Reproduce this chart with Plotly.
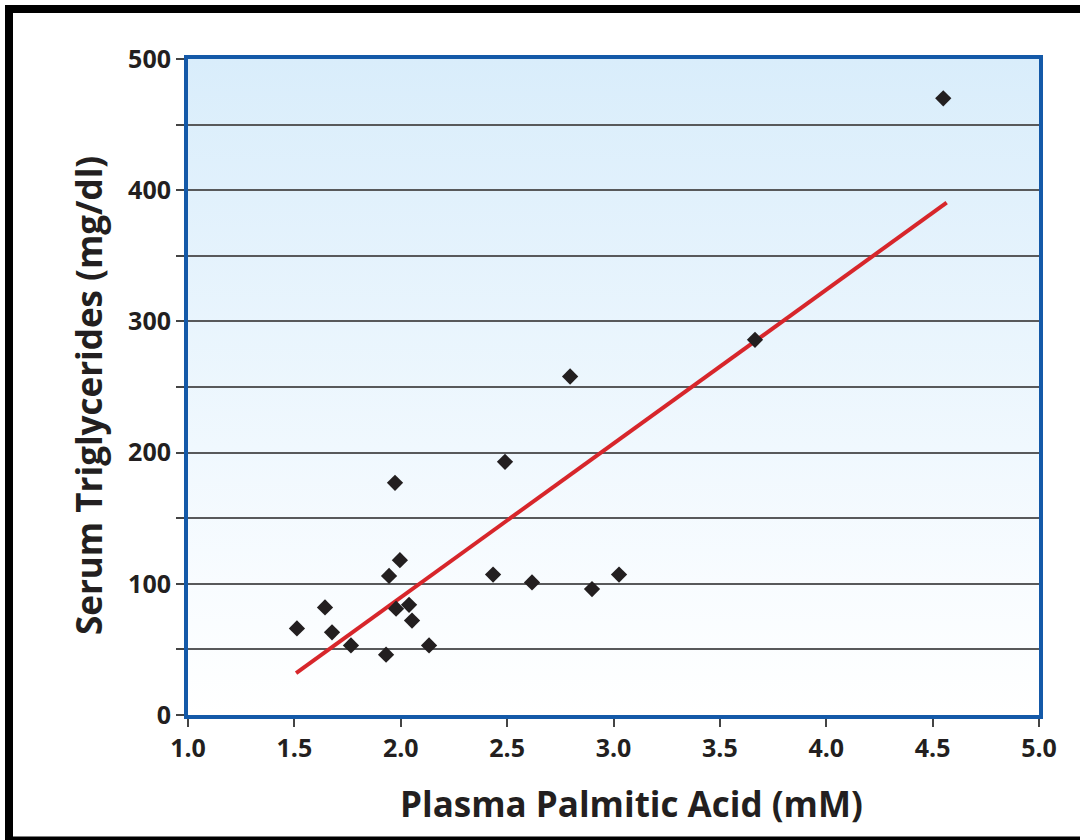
import base64
import plotly.graph_objects as go

# Data
palmitic_mM = [1.512, 1.644, 1.677, 1.766, 1.931, 1.945, 1.973, 1.978, 1.996, 2.039,
               2.053, 2.133, 2.434, 2.490, 2.617, 2.796, 2.899, 3.026, 3.665, 4.550]
triglycerides = [66, 82, 63, 53, 46, 106, 177, 81, 118, 84,
                 72, 53, 107, 193, 101, 258, 96, 107, 286, 470]
fit_x = [1.508, 4.566]
fit_y = [32, 390.5]

x_ticks = [1.0, 1.5, 2.0, 2.5, 3.0, 3.5, 4.0, 4.5, 5.0]
x_tick_text = ["1.0", "1.5", "2.0", "2.5", "3.0", "3.5", "4.0", "4.5", "5.0"]
y_ticks = [0, 50, 100, 150, 200, 250, 300, 350, 400, 450, 500]
y_tick_text = ["0", "", "100", "", "200", "", "300", "", "400", "", "500"]

FONT = "Open Sans"
TXT = "#231f20"
BLUE = "#1459a8"

W, H = 1080, 840
L, R, T, B = 188, 41, 59, 125
pw, ph = W - L - R, H - T - B


def px2paper_x(px):
    return (px - L) / pw


def px2paper_y(py):
    return (H - B - py) / ph


svg = ('<svg xmlns="http://www.w3.org/2000/svg" width="100" height="100" viewBox="0 0 100 100" '
       'preserveAspectRatio="none"><defs><linearGradient id="g" x1="0" y1="0" x2="0" y2="1">'
       '<stop offset="0" stop-color="#d9edfb"/><stop offset="0.8" stop-color="#f8fcff"/>'
       '<stop offset="1" stop-color="#ffffff"/></linearGradient></defs>'
       '<rect width="100" height="100" fill="url(#g)"/></svg>')
svg_uri = "data:image/svg+xml;base64," + base64.b64encode(svg.encode()).decode()

fig = go.Figure()
fig.add_trace(go.Scatter(x=fit_x, y=fit_y, mode="lines",
                         line=dict(color="#d7262b", width=4), hoverinfo="skip"))
fig.add_trace(go.Scatter(x=palmitic_mM, y=triglycerides, mode="markers",
                         marker=dict(symbol="diamond", size=12.5, color=TXT)))

fig.update_layout(
    width=W, height=H,
    margin=dict(l=L, r=R, t=T, b=B),
    paper_bgcolor="white", plot_bgcolor="white",
    showlegend=False,
    font=dict(family=FONT, color=TXT),
    images=[dict(source=svg_uri, xref="paper", yref="paper", x=0, y=1, sizex=1, sizey=1,
                 sizing="stretch", xanchor="left", yanchor="top", layer="below")],
    xaxis=dict(range=[1, 5], tickvals=x_ticks, ticktext=x_tick_text,
               showgrid=False, zeroline=False,
               showline=True, linecolor=BLUE, linewidth=4, mirror=True,
               ticks="outside", ticklen=8, tickwidth=1.5, tickcolor="#444",
               tickfont=dict(family=FONT, size=25, color=TXT, weight="bold")),
    yaxis=dict(range=[0, 500], tickvals=y_ticks, ticktext=y_tick_text,
               showgrid=True, gridcolor="#58595b", gridwidth=1.5, zeroline=False,
               showline=True, linecolor=BLUE, linewidth=4, mirror=True,
               ticks="outside", ticklen=8, tickwidth=1.5, tickcolor="#444",
               tickfont=dict(family=FONT, size=25, color=TXT, weight="bold")),
    annotations=[
        dict(text="Plasma Palmitic Acid (mM)", xref="paper", yref="paper",
             x=px2paper_x(631), y=px2paper_y(803), xanchor="center", yanchor="middle",
             showarrow=False, font=dict(family=FONT, size=35, color=TXT, weight="bold")),
        dict(text="Serum Triglycerides (mg/dl)", xref="paper", yref="paper",
             x=px2paper_x(88), y=px2paper_y(396), xanchor="center", yanchor="middle",
             textangle=-90, showarrow=False,
             font=dict(family=FONT, size=35, color=TXT, weight="bold")),
    ],
    shapes=[
        dict(type="rect", xref="paper", yref="paper", layer="above",
             x0=px2paper_x(9), x1=px2paper_x(1100), y0=px2paper_y(840.5), y1=px2paper_y(9),
             line=dict(color="black", width=8), fillcolor="rgba(0,0,0,0)"),
    ],
)

fig.write_html("out.html")
